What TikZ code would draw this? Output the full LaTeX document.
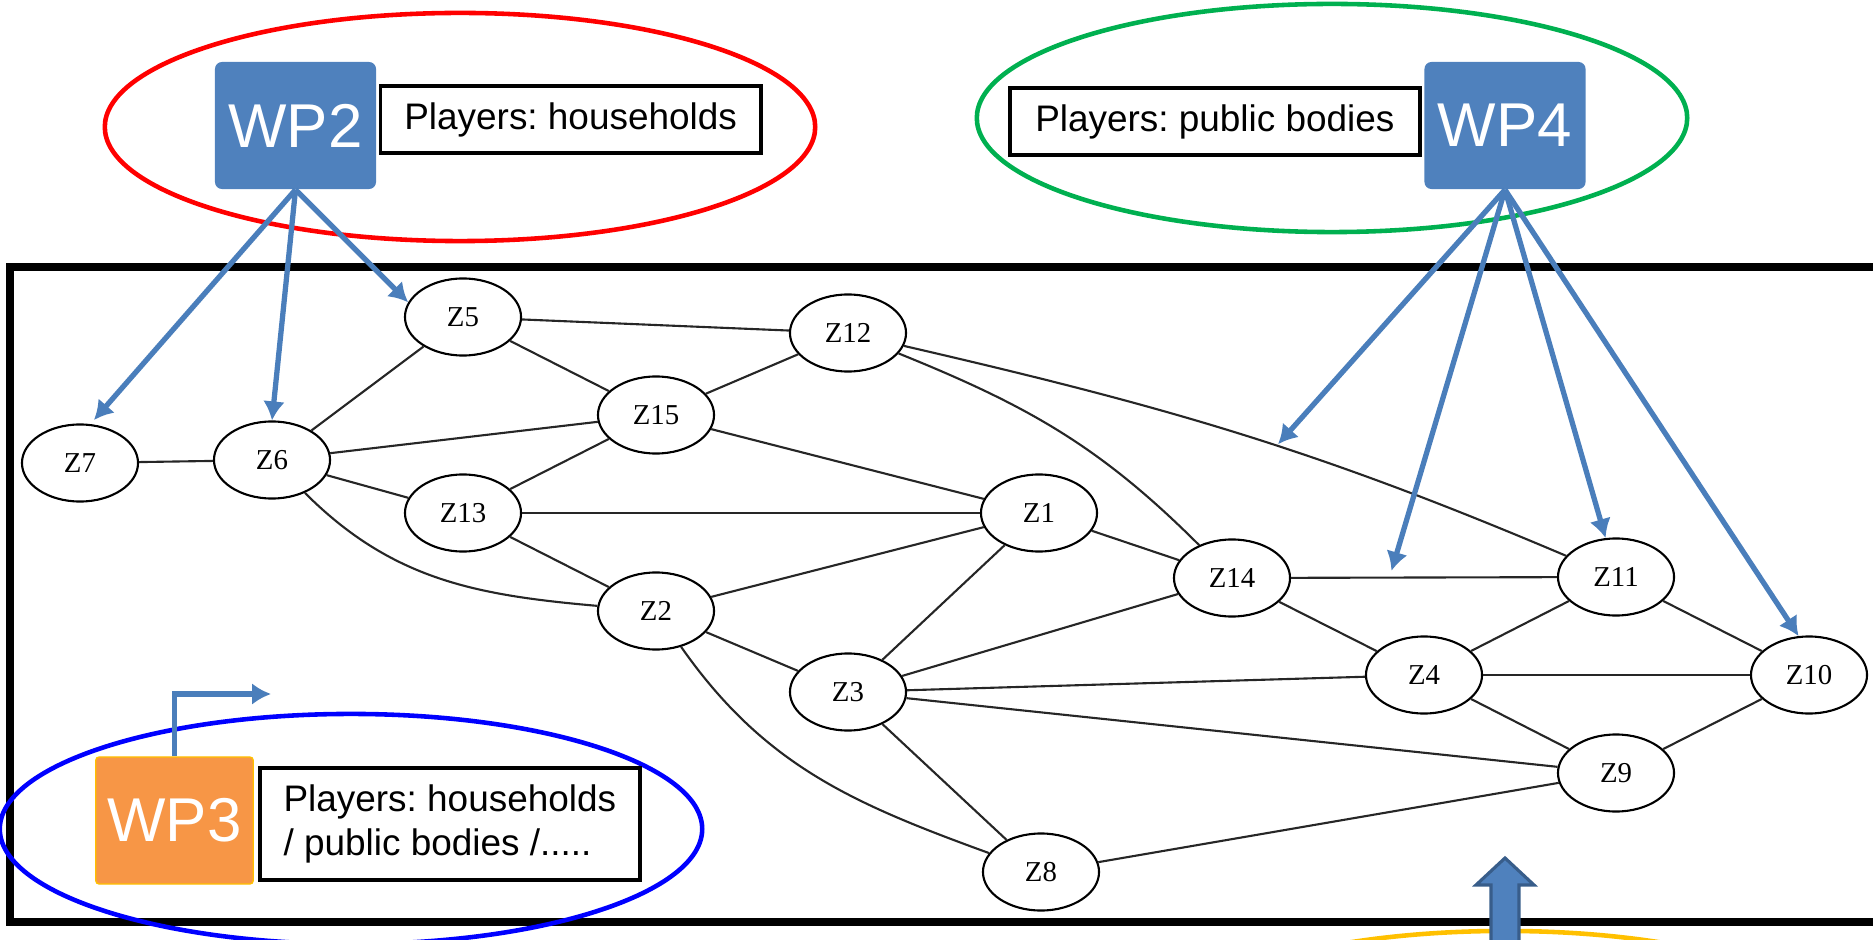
\documentclass[tikz,border=0pt]{standalone}
\usepackage{fontspec}
\setmainfont{Liberation Sans}
\newfontfamily\zonefont{Liberation Serif}
\usetikzlibrary{shapes.geometric, positioning, arrows.meta}
\frenchspacing

\definecolor{wpblue}{HTML}{4F81BD}
\definecolor{wporange}{HTML}{F79646}
\definecolor{feedblue}{HTML}{4A7EBB}
\definecolor{ringgreen}{HTML}{00B050}
\definecolor{ringyellow}{HTML}{FFC000}
\definecolor{arrowedge}{HTML}{385D8A}

\tikzstyle{wp} = [rectangle, fill=wpblue, text=white, rounded corners=2pt,
    minimum width=1.61cm, minimum height=1.27cm, font=\fontsize{17.6}{20}\selectfont]
\tikzstyle{players} = [rectangle, draw, line width=1pt, align=left,
    minimum width=3.8cm, minimum height=0.67cm, font=\fontsize{10.5}{12.6}\selectfont]
\tikzstyle{ring} = [ellipse, draw, line width=1.3pt, minimum width=7.1cm, minimum height=2.28cm]
\tikzstyle{area} = [ellipse, draw, fill=white, line width=0.6pt, inner sep=0pt,
    minimum width=1.16cm, minimum height=0.77cm, font=\zonefont\fontsize{8.2}{9}\selectfont]
\tikzstyle{link} = [draw, line width=0.6pt, color=black!85]
\tikzstyle{feed} = [draw, -{Latex[length=5.4pt,width=6.2pt]}, line width=1.5pt, color=feedblue]

\begin{document}
\begin{tikzpicture}[x=0.01cm, y=-0.01cm]
    \useasboundingbox (0,0) rectangle (1873,940);
    % frame, open on the right
    \draw [line width=2.2pt] (1890,267) -- (10,267) -- (10,922) -- (1890,922);

    % work package rings
    \node [ring, draw=red] (ring2) at (460,127) {};
    \node [ring, draw=ringgreen] (ring4) at (1332,118) {};
    \node [ring, draw=blue, minimum width=7.02cm, minimum height=2.3cm] (ring3) at (351,829) {};
    \node [ring, draw=ringyellow] (ring5) at (1505,1045) {};

    \node [wp] (wp2) at (295.5,125.5) {WP2};
    \node [players, right=0.02cm of wp2, yshift=0.06cm] (hh) {Players: households};
    \node [wp] (wp4) at (1505,125.5) {WP4};
    \node [players, minimum width=4.1cm, left=0.02cm of wp4, yshift=0.04cm] (pb) {Players: public bodies};
    \node [wp, fill=wporange, draw=ringyellow, line width=0.4pt, rounded corners=1pt,
        minimum width=1.57cm] (wp3) at (174.5,820.5) {WP3};
    \node [players, minimum height=1.12cm, right=0.04cm of wp3, yshift=-0.035cm] (mix)
        {Players: households\\/ public bodies /.....};

    % block arrow coming in from below
    \coordinate (uptip) at (1505,858);
    \draw [fill=wpblue, draw=arrowedge, line width=0.9pt] (uptip) -- ++(29,27) -- ++(-15,0)
        -- ++(0,70) -- ++(-28,0) -- ++(0,-70) -- ++(-15,0) -- cycle;

    % zones
    \node [area] (z7) at (80,463) {Z7};
    \node [area] (z6) at (272,460) {Z6};
    \node [area] (z5) at (463,317) {Z5};
    \node [area] (z15) at (656,415) {Z15};
    \node [area] (z13) at (463,513) {Z13};
    \node [area] (z2) at (656,611) {Z2};
    \node [area] (z12) at (848,333) {Z12};
    \node [area] (z1) at (1039,513) {Z1};
    \node [area] (z14) at (1232,578) {Z14};
    \node [area] (z3) at (848,692) {Z3};
    \node [area] (z8) at (1041,872) {Z8};
    \node [area] (z11) at (1616,577) {Z11};
    \node [area] (z4) at (1424,675) {Z4};
    \node [area] (z10) at (1809,675) {Z10};
    \node [area] (z9) at (1616,773) {Z9};

    \path [link] (z7) -- (z6);
    \path [link] (z6) -- (z5);
    \path [link] (z6) -- (z15);
    \path [link] (z6) -- (z13);
    \path [link] (z6) to [out=-45, in=175] (z2);
    \path [link] (z5) -- (z12);
    \path [link] (z5) -- (z15);
    \path [link] (z15) -- (z12);
    \path [link] (z15) -- (z13);
    \path [link] (z15) -- (z1);
    \path [link] (z13) -- (z1);
    \path [link] (z13) -- (z2);
    \path [link] (z2) -- (z1);
    \path [link] (z2) -- (z3);
    \path [link] (z2) to [out=-55, in=160] (z8);
    \path [link] (z12) to [out=-22, in=135] (z14);
    \path [link] (z12) to [out=-13, in=157] coordinate [pos=0.56] (hitA) (z11);
    \path [link] (z1) -- (z14);
    \path [link] (z1) -- (z3);
    \path [link] (z14) -- (z3);
    \path [link] (z14) -- coordinate [pos=0.37] (hitB) (z11);
    \path [link] (z14) -- (z4);
    \path [link] (z3) -- (z4);
    \path [link] (z3) -- (z9);
    \path [link] (z3) -- (z8);
    \path [link] (z11) -- (z4);
    \path [link] (z11) -- (z10);
    \path [link] (z4) -- (z10);
    \path [link] (z4) -- (z9);
    \path [link] (z9) -- (z10);
    \path [link] (z8) -- (z9);

    % work package links
    \path [feed, shorten >=1.5pt] (wp2.south) -- (z7.75);
    \path [feed] (wp2.south) -- (z6.north);
    \path [feed] (wp2.south) -- (z5.165);
    \path [feed, shorten >=0.5pt] (wp4.south) -- (hitA);
    \path [feed, shorten >=2pt] (wp4.south) -- (hitB);
    \path [feed] (wp4.south) -- (z11.105);
    \path [feed] (wp4.south) -- (z10.105);
    \coordinate (wp3turn) at (271,694);
    \path [feed] (wp3.north) |- (wp3turn);
\end{tikzpicture}
\end{document}
